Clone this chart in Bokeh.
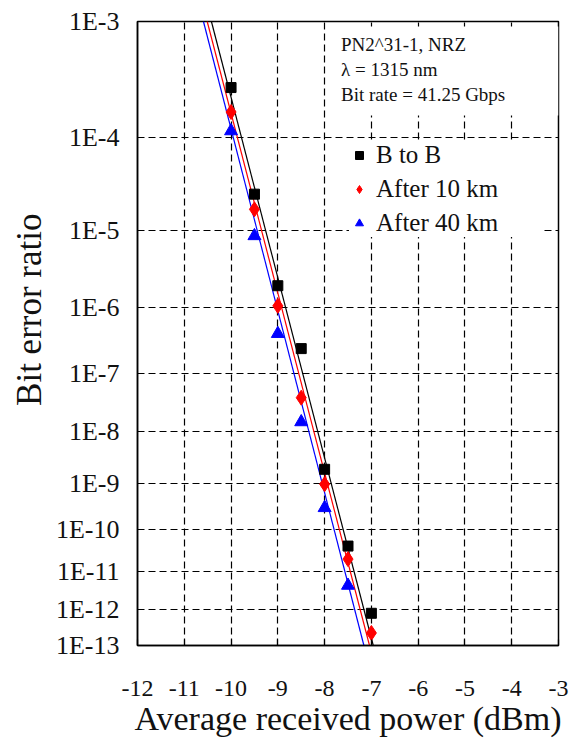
import numpy as np
from bokeh.plotting import figure
from bokeh.models import Range1d, FixedTicker, Legend, LegendItem, Label, BoxAnnotation, Title
from bokeh.embed import file_html
from bokeh.resources import INLINE

# ---- data ----
power_b2b = [-10, -9.5, -9, -8.5, -8, -7.5, -7]
ber_b2b = [2.9e-4, 2.6e-5, 2.0e-6, 2.5e-7, 1.9e-9, 4.1e-11, 8.1e-13]
power_10km = [-10, -9.5, -9, -8.5, -8, -7.5, -7]
ber_10km = [1.75e-4, 1.76e-5, 1.06e-6, 4.0e-8, 9.5e-10, 2.0e-11, 2.3e-13]
power_40km = [-10, -9.5, -9, -8.5, -8, -7.5]
ber_40km = [1.16e-4, 8.6e-6, 4.2e-7, 1.5e-8, 3.0e-10, 4.4e-12]

# fitted lines (end points)
fit_ber = [1e-3, 1e-13]
fit_b2b_x = [-10.42, -6.96]
fit_10km_x = [-10.51, -7.04]
fit_40km_x = [-10.59, -7.16]

x_ticks = [-12, -11, -10, -9, -8, -7, -6, -5, -4, -3]
y_exponents = [3, 4, 5, 6, 7, 8, 9, 10, 11, 12, 13]
y_tick_labels = ["1E-%d" % e for e in y_exponents]

notes = ["PN2^31-1, NRZ", "\u03bb = 1315 nm", "Bit rate = 41.25 Gbps"]
y_title = "Bit error ratio"
x_title = "Average received power (dBm)"


def tr(ber):
    """BER scale: -log10(-log10(BER) + 0.5)"""
    n = -np.log10(np.asarray(ber, dtype=float))
    return np.round(-np.log10(n + 0.5), 9)


FONT = "Liberation Serif"

t_top = float(tr(1e-3))
t_bot = float(tr(1e-13))

p = figure(width=571, height=744, output_backend="svg", toolbar_location=None,
           x_range=Range1d(-12, -3), y_range=Range1d(t_bot, t_top),
           min_border_left=137, min_border_right=13, min_border_top=21,
           min_border_bottom=99)
p.background_fill_color = "white"
p.border_fill_color = "white"
p.outline_line_color = "black"
p.outline_line_width = 1.5

y_ticks = [float(v) for v in tr([10.0 ** (-e) for e in y_exponents])]

# axes
p.xaxis.ticker = FixedTicker(ticks=x_ticks)
p.xaxis.major_label_overrides = {t: str(t) for t in x_ticks}
p.yaxis.ticker = FixedTicker(ticks=y_ticks)
p.yaxis.major_label_overrides = {v: lab for v, lab in zip(y_ticks, y_tick_labels)}

for ax in (p.xaxis[0], p.yaxis[0]):
    ax.axis_line_color = "black"
    ax.axis_line_width = 1.5
    ax.major_tick_in = 6
    ax.major_tick_out = 0
    ax.major_tick_line_color = "black"
    ax.major_tick_line_width = 1.2
    ax.minor_tick_line_color = None
    ax.major_label_text_font = FONT
    ax.major_label_text_color = "#111111"
    ax.axis_label_text_font = FONT
    ax.axis_label_text_font_style = "normal"
    ax.axis_label_text_color = "#111111"

p.xaxis.axis_label = x_title
p.xaxis.axis_label_text_font_size = "34px"
p.xaxis.major_label_text_font_size = "24px"
p.xaxis.major_label_standoff = 35
p.xaxis.axis_label_standoff = 1

p.yaxis.major_label_text_font_size = "26px"
p.yaxis.major_label_standoff = 18

# y-axis title, a little above the middle as in the reference
p.add_layout(Title(text=y_title, align="right", offset=192, standoff=8,
                   text_font=FONT, text_font_size="35px",
                   text_font_style="normal", text_color="#111111"), "left")

# grid
p.xgrid.ticker = FixedTicker(ticks=x_ticks)
p.ygrid.ticker = FixedTicker(ticks=y_ticks)
for g in (p.xgrid[0], p.ygrid[0]):
    g.grid_line_color = "black"
    g.grid_line_width = 1.2
    g.grid_line_dash = "7 4"

px = (t_top - t_bot) / 624          # data units per screen pixel (y)

# white box behind the notes
p.add_layout(BoxAnnotation(left=-7.85, right=-3, top=t_top - 5 * px,
                           bottom=t_top - 94 * px,
                           fill_color="white", fill_alpha=1.0, line_color=None))

# fit lines
p.line(fit_b2b_x, tr(fit_ber), line_color="black", line_width=1.2)
p.line(fit_10km_x, tr(fit_ber), line_color="red", line_width=1.2)
p.line(fit_40km_x, tr(fit_ber), line_color="blue", line_width=1.2)

# markers
r1 = p.scatter(power_b2b, tr(ber_b2b), marker="square", size=10,
               fill_color="black", line_color="black")
r2 = p.scatter(power_10km, tr(ber_10km), marker="diamond", size=15,
               fill_color="red", line_color="red")
r3 = p.scatter(power_40km, tr(ber_40km), marker="triangle", size=13,
               fill_color="blue", line_color="blue")

legend = Legend(items=[LegendItem(label="B to B", renderers=[r1]),
                       LegendItem(label="After 10 km", renderers=[r2]),
                       LegendItem(label="After 40 km", renderers=[r3])],
                location=(212, 408),
                label_text_font=FONT, label_text_font_size="25px",
                label_text_color="#111111",
                label_height=24, glyph_height=24, glyph_width=20,
                label_standoff=7, spacing=6, padding=10, label_width=165,
                background_fill_color="white", background_fill_alpha=1.0,
                border_line_color=None)
p.add_layout(legend)

# notes
for i, txt in enumerate(notes):
    p.add_layout(Label(x=-7.65, y=t_top - (23 + 25 * i) * px, text=txt,
                       text_font=FONT, text_font_size="19px",
                       text_color="#111111", text_baseline="middle"))

open("out.html", "w").write(file_html(p, INLINE))
